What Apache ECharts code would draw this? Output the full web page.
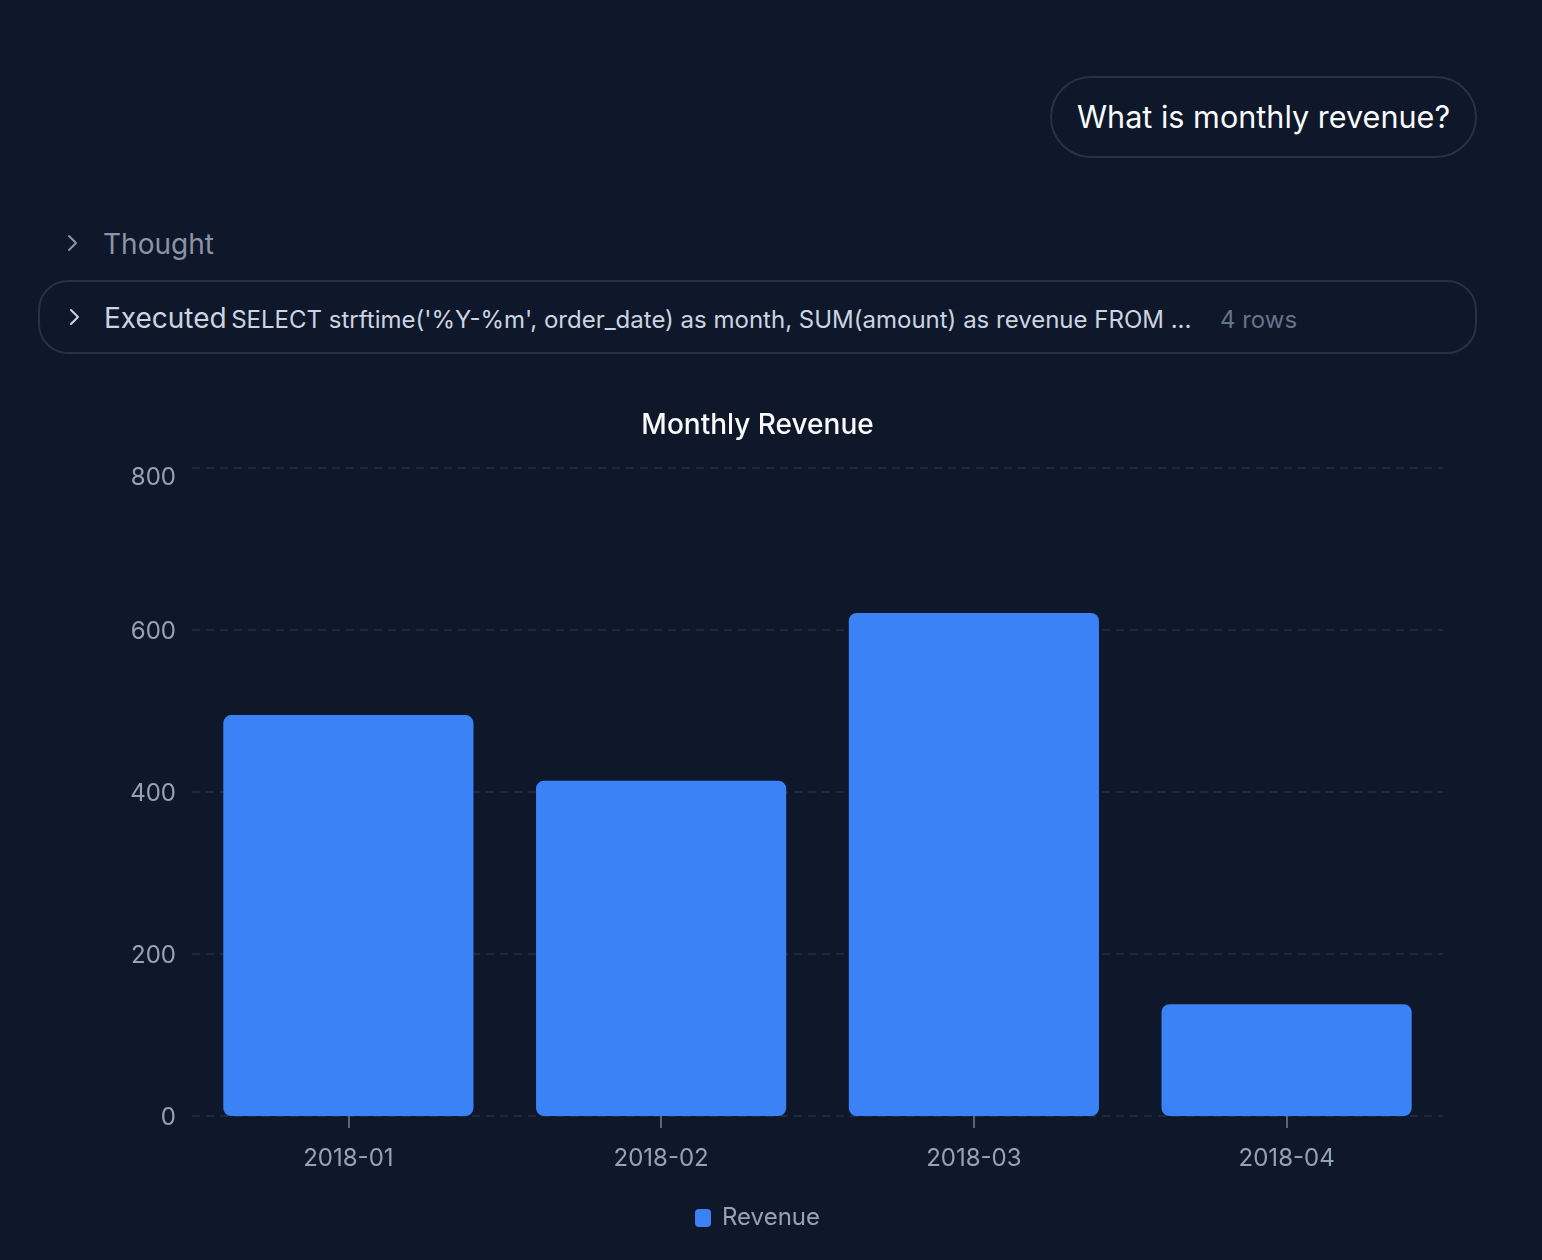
<!DOCTYPE html>
<html>
	<head>
		<meta http-equiv="Content-Type" content="text/html;charset=utf-8" />
		<title>Monthly Revenue</title>
		<script src="https://cdn.jsdelivr.net/npm/echarts@6/dist/echarts.min.js"></script>
		<style>
			html, body {
				margin: 0;
				padding: 0;
				width: 1542px;
				height: 1260px;
				background: #0f172a;
				font-family: 'Inter', 'Noto Sans', sans-serif;
				overflow: hidden;
			}
			.bubble {
				position: absolute;
				left: 1050px;
				top: 76px;
				width: 427px;
				height: 82px;
				box-sizing: border-box;
				border: 2px solid #283244;
				border-radius: 41px;
				color: #f8fafc;
				font-size: 30.6px;
				line-height: 78px;
				text-align: center;
			}
			.thought {
				position: absolute;
				left: 66px;
				top: 226px;
				color: #8a94a6;
				font-size: 28px;
				line-height: 36px;
			}
			.chev {
				display: inline-block;
				width: 37px;
				vertical-align: 1px;
			}
			.chev svg {
				display: block;
			}
			.executed {
				position: absolute;
				left: 38px;
				top: 280px;
				width: 1439px;
				height: 74px;
				box-sizing: border-box;
				border: 2px solid #283244;
				border-radius: 30px;
				padding-left: 28px;
				line-height: 73px;
				white-space: nowrap;
			}
			.executed .chev {
				width: 38px;
			}
			.executed .label {
				color: #cbd5e1;
				font-size: 28px;
				margin-left: -2px;
			}
			.executed .sql {
				color: #cbd5e1;
				font-size: 24px;
			}
			.executed .rows {
				color: #64748b;
				font-size: 24px;
				margin-left: 24px;
			}
			#container {
				position: absolute;
				left: 38px;
				top: 380px;
				width: 1439px;
				height: 880px;
			}
		</style>
	</head>
	<body>
		<div class="bubble">What is monthly revenue?</div>
		<div class="thought"><span class="chev"><svg width="14" height="20" viewBox="0 0 14 20"><polyline points="3,3 10,10 3,17" fill="none" stroke="#8a94a6" stroke-width="2" stroke-linecap="round" stroke-linejoin="round"/></svg></span>Thought</div>
		<div class="executed">
			<span class="chev"><svg width="14" height="20" viewBox="0 0 14 20"><polyline points="3,3 10,10 3,17" fill="none" stroke="#cbd5e1" stroke-width="2" stroke-linecap="round" stroke-linejoin="round"/></svg></span><span class="label">Executed</span>
			<span class="sql">SELECT strftime('%Y-%m', order_date) as month, SUM(amount) as revenue FROM ...</span>
			<span class="rows">4 rows</span>
		</div>
		<div id="container"></div>

		<script type="text/javascript">
			var months = ['2018-01', '2018-02', '2018-03', '2018-04'];
			var revenue = [495, 414, 621, 138];
			var yTicks = [0, 200, 400, 600, 800];

			var myChart = echarts.init(document.getElementById('container'));

			var yMax = yTicks[yTicks.length - 1];

			var option = {
				backgroundColor: 'transparent',
				textStyle: {
					fontFamily: 'Inter'
				},
				title: {
					text: 'Monthly Revenue',
					left: 'center',
					top: 32,
					padding: 0,
					textStyle: {
						color: '#f8fafc',
						fontSize: 28,
						fontWeight: 500,
						fontFamily: 'Inter'
					}
				},
				legend: {
					data: ['Revenue'],
					left: 'center',
					top: 821,
					itemWidth: 16,
					itemHeight: 18,
					itemGap: 10,
					icon: 'roundRect',
					textStyle: {
						color: '#94a3b8',
						fontSize: 24,
						padding: [0, 0, 0, 6],
						fontFamily: 'Inter'
					}
				},
				grid: {
					left: 154,
					right: 34,
					top: 88,
					bottom: 144
				},
				xAxis: {
					type: 'category',
					data: months,
					axisLine: { show: false },
					axisTick: {
						show: true,
						alignWithLabel: true,
						length: 12,
						lineStyle: { color: '#5b6577', width: 2 }
					},
					axisLabel: {
						color: '#94a3b8',
						fontSize: 24,
						margin: 31,
						fontFamily: 'Inter'
					}
				},
				yAxis: {
					type: 'value',
					min: yTicks[0],
					max: yMax,
					interval: yTicks[1] - yTicks[0],
					axisLine: { show: false },
					axisTick: { show: false },
					axisLabel: {
						color: '#94a3b8',
						fontSize: 24,
						margin: 16,
						fontFamily: 'Inter',
						formatter: function (v) {
							return v === yMax ? '{top|' + v + '}' : '{tick|' + v + '}';
						},
						rich: {
							top: {
								color: '#94a3b8',
								fontSize: 24,
								fontFamily: 'Inter',
								padding: [20, 0, 0, 0]
							},
							tick: {
								color: '#94a3b8',
								fontSize: 24,
								fontFamily: 'Inter',
								padding: [4, 0, 0, 0]
							}
						}
					},
					splitLine: {
						lineStyle: {
							color: '#243044',
							type: [8, 6],
							width: 1.5
						}
					}
				},
				series: [{
					name: 'Revenue',
					type: 'bar',
					data: revenue,
					barCategoryGap: '20%',
					itemStyle: {
						color: '#3b82f6',
						borderRadius: 8
					}
				}]
			};

			myChart.setOption(option);
		</script>
	</body>
</html>
